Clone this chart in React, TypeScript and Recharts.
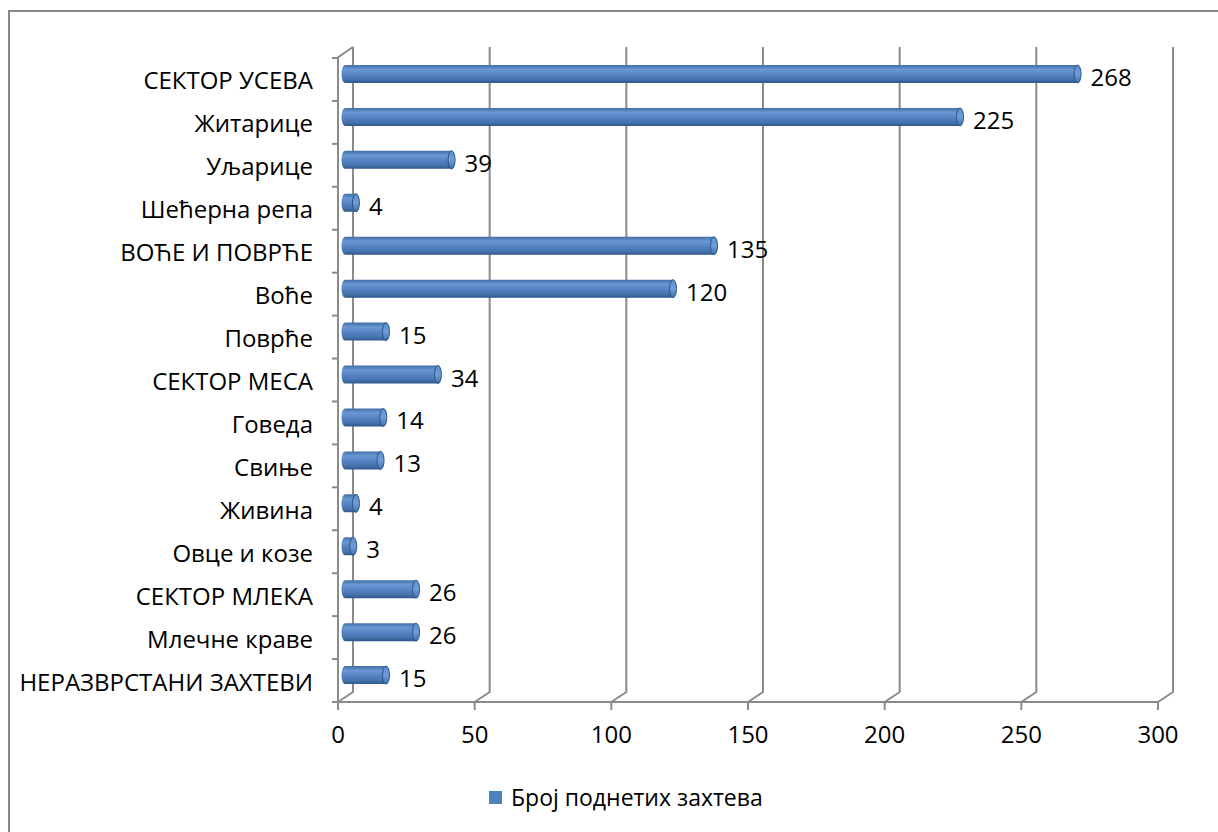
import { Bar, BarChart, CartesianGrid, LabelList, XAxis, YAxis } from "recharts"

const categories = [
  "СЕКТОР УСЕВА",
  "Житарице",
  "Уљарице",
  "Шећерна репа",
  "ВОЋЕ И ПОВРЋЕ",
  "Воће",
  "Поврће",
  "СЕКТОР МЕСА",
  "Говеда",
  "Свиње",
  "Живина",
  "Овце и козе",
  "СЕКТОР МЛЕКА",
  "Млечне краве",
  "НЕРАЗВРСТАНИ ЗАХТЕВИ",
]
const requests = [268, 225, 39, 4, 135, 120, 15, 34, 14, 13, 4, 3, 26, 26, 15]
const xTicks = [0, 50, 100, 150, 200, 250, 300]
const seriesName = "Број поднетих захтева"

const data = categories.map((name, i) => ({ name, value: requests[i] }))

// fake 3d: back wall is shifted right/up, bars sit half way in
const DX = 15
const DY = 11
const BAR_DX = 7
const BAR_DY = 5
const FONT = "'Open Sans', 'Noto Sans', sans-serif"
const GRID = "#8a8a8a"

const Cylinder = (props: any) => {
  const { x, y, width, height } = props
  if (width == null) return null
  const rx = 3.5
  const ry = height / 2
  const cy = y + ry - BAR_DY
  const x0 = x + BAR_DX
  const x1 = x + width + BAR_DX
  const body = `M${x0},${cy - ry} L${x1},${cy - ry} L${x1},${cy + ry} L${x0},${cy + ry} A${rx},${ry} 0 0 1 ${x0},${cy - ry} Z`
  return (
    <g>
      <path d={body} fill="url(#cyl)" />
      <ellipse cx={x1} cy={cy} rx={rx} ry={ry} fill="url(#cap)" stroke="#2d5586" strokeWidth={1} />
    </g>
  )
}

const ValueLabel = (props: any) => {
  const { x, y, width, height, value } = props
  const cy = y + height / 2 - BAR_DY
  return (
    <text x={x + width + BAR_DX + 13} y={cy + 12} fontSize={24} fontFamily={FONT} fill="#000">
      {value}
    </text>
  )
}

const CategoryTick = (props: any) => {
  const { x, y, payload } = props
  return (
    <text x={x} y={y + 10} textAnchor="end" fontSize={24} fontFamily={FONT} fill="#000">
      {payload.value}
    </text>
  )
}

const BackWallLine = (props: any) => {
  const { x1, y1, y2, index } = props
  let d = `M${x1},${y2} L${x1 + DX},${y2 - DY + 1} L${x1 + DX},${y1 - DY}`
  if (index === 0) d += ` M${x1 - 1},${y1} L${x1 + DX},${y1 - DY}`
  return <path key={props.key} d={d} stroke={GRID} strokeWidth={2} fill="none" />
}

const BoundaryTick = (props: any) => {
  const { x1, y1, index, height } = props
  const band = height / categories.length
  const top = y1 - band / 2
  return (
    <g key={props.key}>
      <line x1={x1 - 6} x2={x1} y1={top} y2={top} stroke={GRID} strokeWidth={2} />
      {index === categories.length - 1 && (
        <line x1={x1 - 6} x2={x1} y1={y1 + band / 2} y2={y1 + band / 2} stroke={GRID} strokeWidth={2} />
      )}
    </g>
  )
}

export default function App() {
  return (
    <div style={{ position: "fixed", left: 0, top: 0, width: 1218, height: 832, overflow: "hidden", background: "#fff" }}>
      <div
        style={{
          position: "absolute",
          left: 8,
          top: 10,
          width: 1230,
          height: 840,
          borderLeft: "2px solid #878787",
          borderTop: "2px solid #878787",
        }}
      />
      <div style={{ position: "absolute", left: 0, top: 0 }}>
        <BarChart
          width={1218}
          height={832}
          data={data}
          layout="vertical"
          margin={{ top: 58, right: 60, left: 0, bottom: 90 }}
        >
          <defs>
            <linearGradient id="cyl" x1="0" y1="0" x2="0" y2="1">
              <stop offset="0%" stopColor="#416ea8" />
              <stop offset="25%" stopColor="#6a98d4" />
              <stop offset="50%" stopColor="#5886c6" />
              <stop offset="82%" stopColor="#4472ad" />
              <stop offset="100%" stopColor="#2f5588" />
            </linearGradient>
            <linearGradient id="cap" x1="0" y1="0" x2="0" y2="1">
              <stop offset="0%" stopColor="#5a8ccc" />
              <stop offset="50%" stopColor="#6f9ddb" />
              <stop offset="100%" stopColor="#3f6faa" />
            </linearGradient>
          </defs>
          <CartesianGrid syncWithTicks vertical={BackWallLine} horizontal={BoundaryTick} />
          <XAxis
            type="number"
            domain={[0, 300]}
            ticks={xTicks}
            height={40}
            tickSize={8}
            tickMargin={16}
            axisLine={{ stroke: GRID, strokeWidth: 2 }}
            tickLine={{ stroke: GRID, strokeWidth: 2 }}
            tick={{ fill: "#000", fontSize: 24, fontFamily: FONT }}
          />
          <YAxis
            type="category"
            dataKey="name"
            width={338}
            tickSize={0}
            tickMargin={25}
            tickLine={false}
            axisLine={{ stroke: GRID, strokeWidth: 2 }}
            tick={<CategoryTick />}
            interval={0}
          />
          <Bar dataKey="value" name={seriesName} barSize={18} shape={<Cylinder />} isAnimationActive={false}>
            <LabelList dataKey="value" content={<ValueLabel />} />
          </Bar>
        </BarChart>
      </div>
      <div
        style={{
          position: "absolute",
          left: 489,
          top: 781,
          display: "flex",
          alignItems: "center",
          fontFamily: FONT,
          fontSize: 23,
          color: "#000",
        }}
      >
        <span style={{ display: "inline-block", width: 13, height: 13, background: "#4f81bd", marginRight: 9 }} />
        <span>{seriesName}</span>
      </div>
    </div>
  )
}
